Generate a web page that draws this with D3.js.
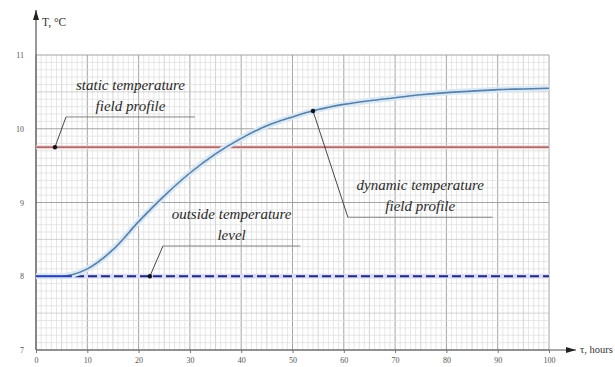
<!DOCTYPE html>
<html>
<head>
<meta charset="utf-8">
<script src="https://cdn.jsdelivr.net/npm/d3@7/dist/d3.min.js"></script>
<style>
  html, body { margin: 0; padding: 0; background: #fff; }
  svg { display: block; }
</style>
</head>
<body>
<svg id="chart" width="615" height="367"></svg>
<script>
// Time, hours
const timeHours = [0, 5, 7, 10, 15, 20, 25, 30, 35, 40, 45, 50, 55, 60, 65, 70, 75, 80, 85, 90, 95, 100];
// Dynamic temperature field profile, °C
const dynamicTemp = [8.0, 8.0, 8.02, 8.1, 8.36, 8.74, 9.09, 9.40, 9.66, 9.87, 10.04, 10.16, 10.26, 10.33, 10.38, 10.42, 10.46, 10.49, 10.51, 10.53, 10.54, 10.55];
// Static temperature field profile, °C
const staticTemp = 9.75;
// Outside temperature level, °C
const outsideTemp = 8;
const xTicks = [0, 10, 20, 30, 40, 50, 60, 70, 80, 90, 100];
const yTicks = [7, 8, 9, 10, 11];

const SERIF = '"Liberation Serif", "DejaVu Serif", serif';

const svg = d3.select("#chart").style("font-family", SERIF);
const x = d3.scaleLinear().domain([0, 100]).range([36, 549]);
const y = d3.scaleLinear().domain([7, 11]).range([350, 55]);

// Graph-paper grid
const grid = svg.append("g");
d3.range(0, 101, 1).forEach(t => {
  const major = t % 10 === 0, mid = t % 5 === 0;
  grid.append("line")
    .attr("x1", x(t)).attr("x2", x(t)).attr("y1", y(7)).attr("y2", y(11))
    .attr("stroke", major ? "#9a9a9a" : mid ? "#c0c0c0" : "#dcdcdc")
    .attr("stroke-width", major ? 0.9 : 0.7);
});
d3.range(70, 111, 1).forEach(k => {
  const v = k / 10;
  const major = k % 10 === 0, mid = k % 5 === 0;
  grid.append("line")
    .attr("x1", x(0)).attr("x2", x(100)).attr("y1", y(v)).attr("y2", y(v))
    .attr("stroke", major ? "#9a9a9a" : mid ? "#c0c0c0" : "#dcdcdc")
    .attr("stroke-width", major ? 0.9 : 0.7);
});

// Axes with arrows
const defs = svg.append("defs");
defs.append("marker").attr("id", "arrow")
  .attr("viewBox", "0 0 10 6").attr("refX", 10).attr("refY", 3)
  .attr("markerWidth", 10).attr("markerHeight", 6).attr("markerUnits", "userSpaceOnUse")
  .attr("orient", "auto")
  .append("path").attr("d", "M0,0 L10,3 L0,6 Z").attr("fill", "#222");

svg.append("line")
  .attr("x1", x(0)).attr("x2", 576).attr("y1", y(7)).attr("y2", y(7))
  .attr("stroke", "#555").attr("stroke-width", 1.2).attr("marker-end", "url(#arrow)");
svg.append("line")
  .attr("x1", x(0)).attr("x2", x(0)).attr("y1", y(7)).attr("y2", 10)
  .attr("stroke", "#555").attr("stroke-width", 1.2).attr("marker-end", "url(#arrow)");

const xAxis = d3.axisBottom(x).tickValues(xTicks).tickFormat(d3.format("d")).tickSize(3).tickPadding(4);
const gx = svg.append("g").attr("transform", `translate(0,${y(7)})`).call(xAxis);
gx.attr("font-family", null);
gx.select(".domain").remove();
gx.selectAll("line").attr("stroke", "#777");
gx.selectAll("text").attr("font-size", 8).attr("fill", "#555").style("font-family", SERIF);

const yAxis = d3.axisLeft(y).tickValues(yTicks).tickFormat(d3.format("d")).tickSize(0).tickPadding(12);
const gy = svg.append("g").attr("transform", `translate(${x(0)},0)`).call(yAxis);
gy.attr("font-family", null);
gy.select(".domain").remove();
gy.selectAll("text").attr("font-size", 8).attr("fill", "#555").style("font-family", SERIF);

svg.append("text").attr("x", 42).attr("y", 26).attr("font-size", 11.5).attr("fill", "#333")
  .style("font-family", SERIF).text("T, °C");
svg.append("text").attr("x", 580).attr("y", 353).attr("font-size", 10.5).attr("fill", "#333")
  .style("font-family", SERIF).text("τ, hours");

// Static temperature field profile
svg.append("line").attr("x1", x(0)).attr("x2", x(100)).attr("y1", y(staticTemp)).attr("y2", y(staticTemp))
  .attr("stroke", "#f4d4d4").attr("stroke-width", 4);
svg.append("line").attr("x1", x(0)).attr("x2", x(100)).attr("y1", y(staticTemp)).attr("y2", y(staticTemp))
  .attr("stroke", "#8e4a48").attr("stroke-width", 1.2);

// Outside temperature level
svg.append("line").attr("x1", x(0)).attr("x2", x(100)).attr("y1", y(outsideTemp)).attr("y2", y(outsideTemp))
  .attr("stroke", "#dcdcfa").attr("stroke-width", 5);
svg.append("line").attr("x1", x(0)).attr("x2", x(100)).attr("y1", y(outsideTemp)).attr("y2", y(outsideTemp))
  .attr("stroke", "#1c2a7a").attr("stroke-width", 1.8).attr("stroke-dasharray", "9,4");

// Dynamic temperature field profile
const pts = timeHours.map((t, i) => [t, dynamicTemp[i]]);
const line = d3.line().x(d => x(d[0])).y(d => y(d[1])).curve(d3.curveMonotoneX);
svg.append("path").attr("d", line(pts)).attr("fill", "none")
  .attr("stroke", "#d7e8f6").attr("stroke-width", 6);
svg.append("path").attr("d", line(pts)).attr("fill", "none")
  .attr("stroke", "#5a7ea4").attr("stroke-width", 1.6);
// solid blue run where the profile sits on the outside level
svg.append("line").attr("x1", x(0)).attr("x2", x(7)).attr("y1", y(outsideTemp)).attr("y2", y(outsideTemp))
  .attr("stroke", "#3040b0").attr("stroke-width", 1.8);

// value of the dynamic profile at time t (linear between samples)
function dynAt(t) {
  const i = Math.min(d3.bisectRight(timeHours, t) - 1, timeHours.length - 2);
  const t0 = timeHours[i], t1 = timeHours[i + 1];
  return dynamicTemp[i] + (dynamicTemp[i + 1] - dynamicTemp[i]) * (t - t0) / (t1 - t0);
}

// Callouts: dot on a curve, leader to an elbow, underline, two-line italic label
const callouts = [
  { dot: [3.7, staticTemp], elbow: [5.85, 10.16], end: 31, lines: ["static temperature", "field profile"] },
  { dot: [22.2, outsideTemp], elbow: [24.75, 8.41], end: 51.5, lines: ["outside temperature", "level"] },
  { dot: [54, dynAt(54)], elbow: [60.8, 8.80], end: 89, lines: ["dynamic temperature", "field profile"] }
];

callouts.forEach(c => {
  const g = svg.append("g");
  g.append("line").attr("x1", x(c.dot[0])).attr("y1", y(c.dot[1]))
    .attr("x2", x(c.elbow[0])).attr("y2", y(c.elbow[1]))
    .attr("stroke", "#333").attr("stroke-width", 0.9);
  g.append("line").attr("x1", x(c.elbow[0])).attr("y1", y(c.elbow[1]))
    .attr("x2", x(c.end)).attr("y2", y(c.elbow[1]))
    .attr("stroke", "#777").attr("stroke-width", 0.9);
  g.append("circle").attr("cx", x(c.dot[0])).attr("cy", y(c.dot[1])).attr("r", 2.2).attr("fill", "#111");
  const cx = (x(c.elbow[0]) + x(c.end)) / 2;
  c.lines.forEach((s, k) => {
    g.append("text").attr("x", cx).attr("y", y(c.elbow[1]) - 27 + k * 21)
      .attr("text-anchor", "middle").attr("font-size", 15).attr("font-style", "italic")
      .attr("fill", "#2a2a2a").style("font-family", SERIF).text(s);
  });
});
</script>
</body>
</html>
